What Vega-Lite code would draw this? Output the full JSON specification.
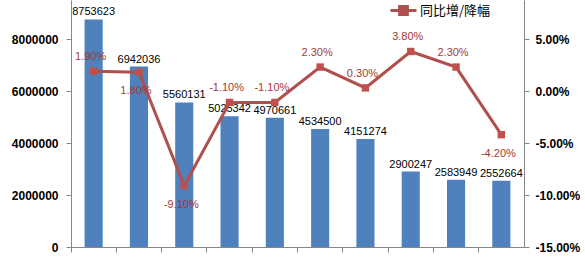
{
  "$schema": "https://vega.github.io/schema/vega-lite/v6.json",
  "width": 453,
  "height": 247,
  "autosize": "none",
  "padding": {"left": 71, "top": 0, "right": 61, "bottom": 15},
  "background": "white",
  "config": {
    "view": {"stroke": null},
    "font": "Liberation Sans",
    "locale": {"number": {"decimal": ".", "thousands": ",", "grouping": [3], "currency": ["$", ""], "minus": "-"}}
  },
  "data": {"values": [
    {"cat": "1", "sales": 8753623, "yoy": 0.019},
    {"cat": "2", "sales": 6942036, "yoy": 0.018},
    {"cat": "3", "sales": 5560131, "yoy": -0.091},
    {"cat": "4", "sales": 5025342, "yoy": -0.011},
    {"cat": "5", "sales": 4970661, "yoy": -0.011},
    {"cat": "6", "sales": 4534500, "yoy": 0.023},
    {"cat": "7", "sales": 4151274, "yoy": 0.003},
    {"cat": "8", "sales": 2900247, "yoy": 0.038},
    {"cat": "9", "sales": 2583949, "yoy": 0.023},
    {"cat": "10", "sales": 2552664, "yoy": -0.042}
  ]},
  "encoding": {
    "x": {
      "field": "cat", "type": "nominal", "sort": null,
      "scale": {"paddingInner": 0, "paddingOuter": 0},
      "axis": {"labels": false, "title": null, "bandPosition": 0, "domainColor": "#868686", "tickColor": "#868686", "tickSize": 5, "grid": false}
    }
  },
  "layer": [
    {
      "encoding": {
        "y": {
          "field": "sales", "type": "quantitative",
          "scale": {"domain": [0, 9500000], "nice": false},
          "axis": {"orient": "left", "values": [0, 2000000, 4000000, 6000000, 8000000], "format": "d", "title": null, "grid": false,
                   "labelFontWeight": "bold", "labelFontSize": 12, "labelColor": "#000000", "labelPadding": 8,
                   "domainColor": "#868686", "tickColor": "#868686", "tickSize": 5}
        }
      },
      "layer": [
        {"mark": {"type": "bar", "color": "#4F81BD", "width": {"band": 0.4}}},
        {"mark": {"type": "text", "baseline": "bottom", "dy": -2, "fontSize": 11, "color": "#000000"},
         "encoding": {"text": {"field": "sales", "type": "quantitative", "format": "d"}}}
      ]
    },
    {
      "encoding": {
        "y": {
          "field": "yoy", "type": "quantitative",
          "scale": {"domain": [-0.15, 0.0875], "nice": false, "zero": false},
          "axis": {"orient": "right", "values": [-0.15, -0.1, -0.05, 0, 0.05], "format": ".2%", "title": null, "grid": false,
                   "labelFontWeight": "bold", "labelFontSize": 12, "labelColor": "#000000", "labelPadding": 6,
                   "domainColor": "#868686", "tickColor": "#868686", "tickSize": 5}
        }
      },
      "layer": [
        {"mark": {"type": "line", "strokeWidth": 3},
         "encoding": {"color": {"datum": "同比增/降幅", "type": "nominal", "scale": {"range": ["#B0504D"]},
           "legend": {"title": null, "orient": "none", "legendX": 318, "legendY": -4, "padding": 0,
                      "symbolType": "M-1,0L1,0M-0.3,-0.3L0.3,-0.3L0.3,0.3L-0.3,0.3Z", "symbolSize": 676,
                      "symbolStrokeWidth": 3, "symbolFillColor": "#C0504D", "symbolStrokeColor": "#B0504D",
                      "labelFont": "Noto Sans CJK SC", "labelFontSize": 13, "labelColor": "#000000", "labelOffset": 2}}}},
        {"mark": {"type": "point", "shape": "square", "filled": true, "size": 55, "color": "#C0504D", "opacity": 1}},
        {"transform": [{"filter": {"not": {"field": "cat", "oneOf": ["2", "3", "10"]}}}],
         "mark": {"type": "text", "dy": -14, "dx": -3, "fontSize": 11, "color": "#A03A37"},
         "encoding": {"text": {"field": "yoy", "type": "quantitative", "format": ".2%"}}},
        {"transform": [{"filter": {"field": "cat", "oneOf": ["2", "3", "10"]}}],
         "mark": {"type": "text", "dy": 19, "dx": -3, "fontSize": 11, "color": "#A03A37"},
         "encoding": {"text": {"field": "yoy", "type": "quantitative", "format": ".2%"}}}
      ]
    }
  ],
  "resolve": {"scale": {"y": "independent"}}
}
